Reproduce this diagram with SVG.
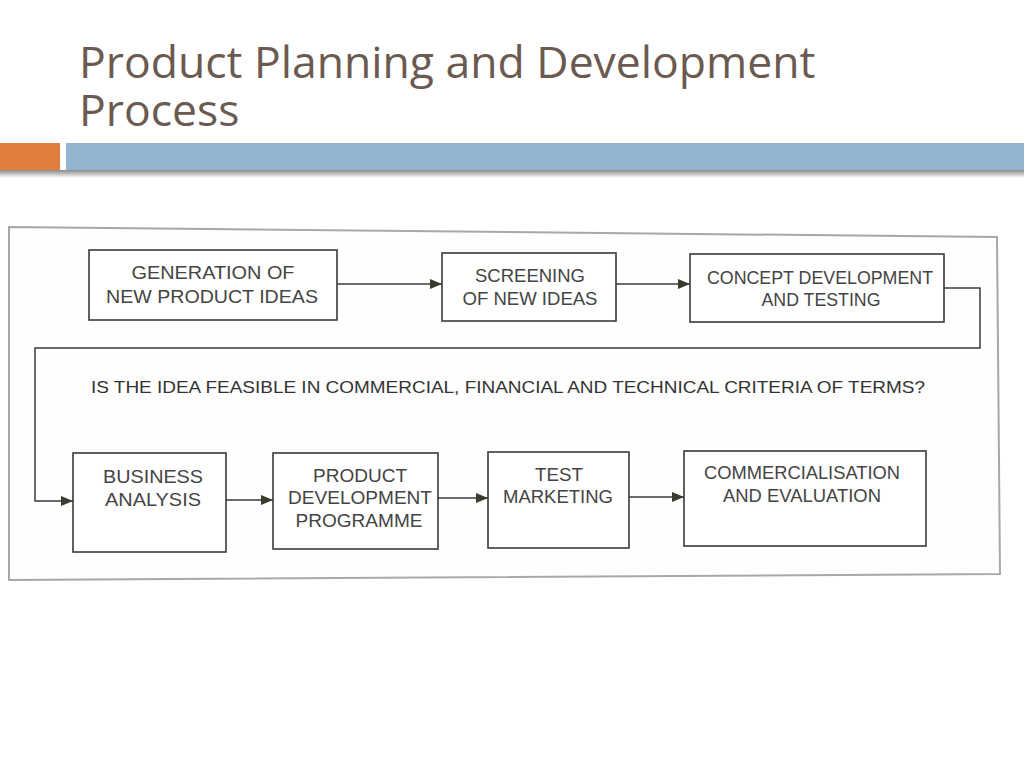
<svg xmlns="http://www.w3.org/2000/svg" width="1024" height="768" viewBox="0 0 1024 768">
<defs>
<style>
.title{font-family:"Open Sans","Noto Sans",sans-serif;font-size:44.5px;fill:#6b5a50}
.box{fill:#ffffff;stroke:#3a3a3a;stroke-width:1.6}
.lbl{font-family:"Liberation Sans",Arial,sans-serif;font-size:19px;fill:#444;text-anchor:middle}
.q{font-family:"Liberation Sans",Arial,sans-serif;font-size:16.5px;fill:#333}
.con{fill:none;stroke:#3a3a3a;stroke-width:1.5}
</style>
<marker id="ah" viewBox="0 0 12 10" refX="12" refY="5" markerWidth="12" markerHeight="10" markerUnits="userSpaceOnUse" orient="auto">
<path d="M0,0 L12,5 L0,10 Z" fill="#3a3a2e"/>
</marker>
<linearGradient id="sh" x1="0" y1="0" x2="0" y2="1">
<stop offset="0" stop-color="#8a8a8a"/>
<stop offset="1" stop-color="#ffffff"/>
</linearGradient>
</defs>
<rect width="1024" height="768" fill="#ffffff"/>
<text class="title" x="79" y="78">Product Planning and Development</text>
<text class="title" x="79" y="126">Process</text>
<rect x="0" y="170" width="1024" height="8" fill="url(#sh)"/>
<rect x="0" y="143" width="60" height="27" fill="#df7c3e"/>
<rect x="66" y="143" width="958" height="27" fill="#93b5d2"/>
<polygon points="9,227 997,237 1000,574 9,580" fill="#fefefe" stroke="#a8a8a8" stroke-width="2"/>
<g id="connectors">
<line class="con" x1="337" y1="284" x2="442" y2="284" marker-end="url(#ah)"/>
<line class="con" x1="616" y1="284" x2="690" y2="284" marker-end="url(#ah)"/>
<polyline class="con" points="944,288 980,288 980,348 35,348 35,501 73,501" marker-end="url(#ah)"/>
<line class="con" x1="226" y1="500" x2="273" y2="500" marker-end="url(#ah)"/>
<line class="con" x1="438" y1="498" x2="488" y2="498" marker-end="url(#ah)"/>
<line class="con" x1="629" y1="497" x2="684" y2="497" marker-end="url(#ah)"/>
</g>
<g id="n1"><rect class="box" x="89" y="250" width="248" height="70"/><text class="lbl" x="213" y="279" textLength="163" lengthAdjust="spacingAndGlyphs">GENERATION OF</text><text class="lbl" x="212" y="303" textLength="212" lengthAdjust="spacingAndGlyphs">NEW PRODUCT IDEAS</text></g>
<g id="n2"><rect class="box" x="442" y="253" width="174" height="68"/><text class="lbl" x="530" y="282" textLength="110" lengthAdjust="spacingAndGlyphs">SCREENING</text><text class="lbl" x="530" y="305" textLength="135" lengthAdjust="spacingAndGlyphs">OF NEW IDEAS</text></g>
<g id="n3"><rect class="box" x="690" y="254" width="254" height="68"/><text class="lbl" x="820" y="284" textLength="226" lengthAdjust="spacingAndGlyphs">CONCEPT DEVELOPMENT</text><text class="lbl" x="821" y="306" textLength="119" lengthAdjust="spacingAndGlyphs">AND TESTING</text></g>
<g id="q"><text class="q" x="91" y="393" textLength="834" lengthAdjust="spacingAndGlyphs">IS THE IDEA FEASIBLE IN COMMERCIAL, FINANCIAL AND TECHNICAL CRITERIA OF TERMS?</text></g>
<g id="n4"><rect class="box" x="73" y="453" width="153" height="99"/><text class="lbl" x="153" y="483" textLength="100" lengthAdjust="spacingAndGlyphs">BUSINESS</text><text class="lbl" x="153" y="506" textLength="96" lengthAdjust="spacingAndGlyphs">ANALYSIS</text></g>
<g id="n5"><rect class="box" x="273" y="453" width="165" height="96"/><text class="lbl" x="360" y="482" textLength="94" lengthAdjust="spacingAndGlyphs">PRODUCT</text><text class="lbl" x="360" y="504" textLength="144" lengthAdjust="spacingAndGlyphs">DEVELOPMENT</text><text class="lbl" x="359" y="527" textLength="127" lengthAdjust="spacingAndGlyphs">PROGRAMME</text></g>
<g id="n6"><rect class="box" x="488" y="452" width="141" height="96"/><text class="lbl" x="559" y="481" textLength="48" lengthAdjust="spacingAndGlyphs">TEST</text><text class="lbl" x="558" y="503" textLength="110" lengthAdjust="spacingAndGlyphs">MARKETING</text></g>
<g id="n7"><rect class="box" x="684" y="451" width="242" height="95"/><text class="lbl" x="802" y="479" textLength="196" lengthAdjust="spacingAndGlyphs">COMMERCIALISATION</text><text class="lbl" x="802" y="502" textLength="158" lengthAdjust="spacingAndGlyphs">AND EVALUATION</text></g>
</svg>
